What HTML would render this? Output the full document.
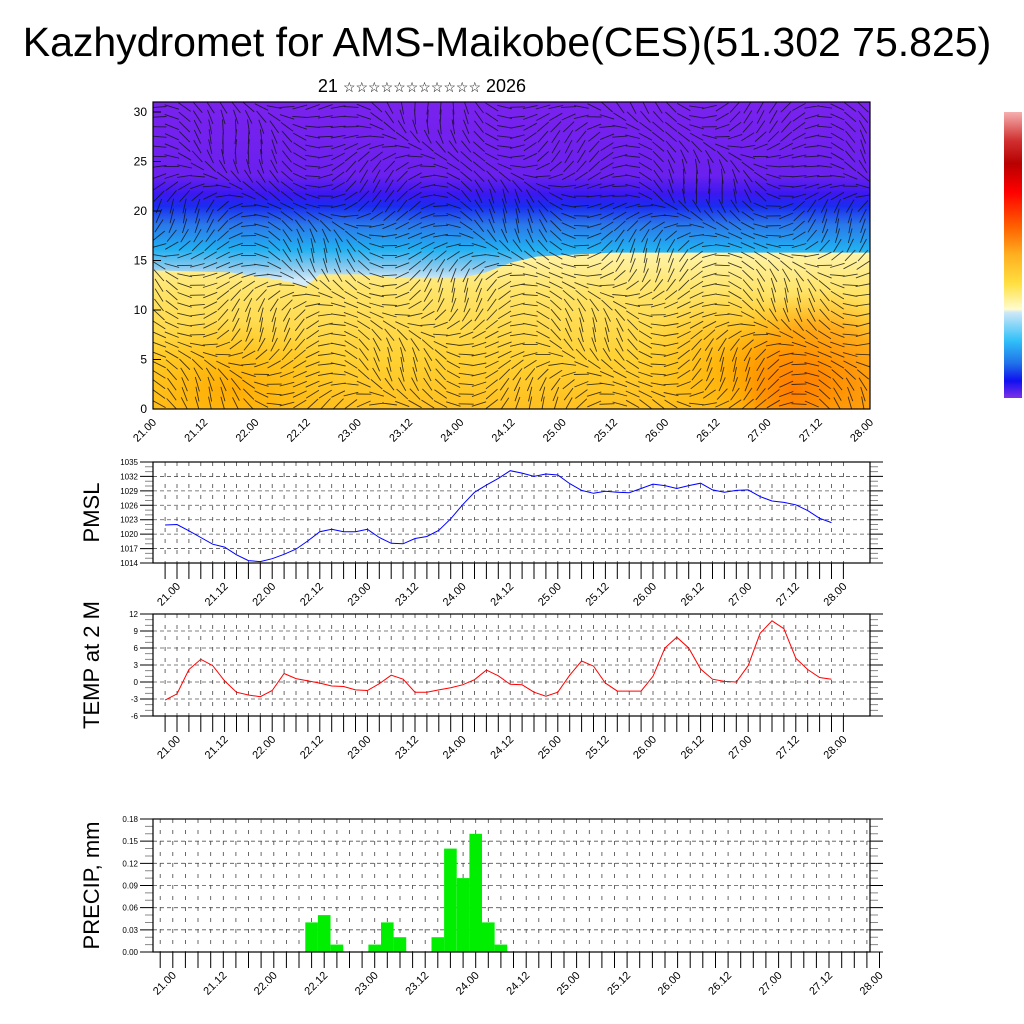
<!DOCTYPE html>
<html><head><meta charset="utf-8"><style>
html,body{margin:0;padding:0;background:#fff;}
svg{display:block;font-family:"Liberation Sans",sans-serif;}
</style></head><body>
<svg id="s" width="1024" height="1024" viewBox="0 0 1024 1024" xmlns="http://www.w3.org/2000/svg">
<defs>
<linearGradient id="gBlue" x1="0" y1="0" x2="0" y2="1">
<stop offset="0" stop-color="#7a22ee"/>
<stop offset="0.24" stop-color="#6a20ee"/>
<stop offset="0.30" stop-color="#3a18f0"/>
<stop offset="0.34" stop-color="#1a2cf0"/>
<stop offset="0.40" stop-color="#2a78ea"/>
<stop offset="0.48" stop-color="#22b0f2"/>
<stop offset="0.54" stop-color="#8ccaee"/>
<stop offset="0.58" stop-color="#d4ecf8"/>
<stop offset="1" stop-color="#d4ecf8"/>
</linearGradient>
<linearGradient id="gYel" x1="0" y1="0" x2="0" y2="1">
<stop offset="0" stop-color="#fff4a8"/>
<stop offset="0.25" stop-color="#ffe468"/>
<stop offset="0.7" stop-color="#ffd030"/>
<stop offset="1" stop-color="#ffc020"/>
</linearGradient>
<radialGradient id="gOr1"><stop offset="0" stop-color="#ff7a00" stop-opacity="0.95"/><stop offset="0.6" stop-color="#ff9000" stop-opacity="0.6"/><stop offset="1" stop-color="#ffb000" stop-opacity="0"/></radialGradient>
<radialGradient id="gOr2"><stop offset="0" stop-color="#ffa800" stop-opacity="0.9"/><stop offset="1" stop-color="#ffb800" stop-opacity="0"/></radialGradient>
<linearGradient id="gBar" x1="0" y1="0" x2="0" y2="1">
<stop offset="0" stop-color="#f6b0b0"/><stop offset="0.1" stop-color="#d03030"/><stop offset="0.18" stop-color="#b80000"/><stop offset="0.28" stop-color="#ff0000"/><stop offset="0.4" stop-color="#ff6000"/><stop offset="0.5" stop-color="#ffb020"/><stop offset="0.6" stop-color="#ffe040"/><stop offset="0.69" stop-color="#fffcd0"/><stop offset="0.7" stop-color="#d0e8f8"/><stop offset="0.8" stop-color="#30c0f8"/><stop offset="0.88" stop-color="#2070e8"/><stop offset="0.94" stop-color="#1010f0"/><stop offset="1" stop-color="#8030e8"/>
</linearGradient>
<clipPath id="cTop"><rect x="153" y="102" width="717" height="307"/></clipPath>
</defs>
<text x="507" y="56" font-size="41" text-anchor="middle">Kazhydromet for AMS-Maikobe(CES)(51.302 75.825)</text>
<text x="422" y="92" font-size="18" text-anchor="middle">21 <tspan font-size="14">☆☆☆☆☆☆☆☆☆☆☆</tspan> 2026</text>
<g id="top"></g>
<rect x="1004" y="112" width="18" height="286" fill="url(#gBar)"/>
<g id="pmsl"></g>
<g id="temp"></g>
<g id="prec"></g>
</svg>
<script>
const timeLabels=["21.00","21.12","22.00","22.12","23.00","23.12","24.00","24.12","25.00","25.12","26.00","26.12","27.00","27.12","28.00"];
const pmslTicks=[1014,1017,1020,1023,1026,1029,1032,1035];
const tempTicks=[-6,-3,0,3,6,9,12];
const precTicks=[0,0.03,0.06,0.09,0.12,0.15,0.18];
const topTicks=[0,5,10,15,20,25,30];
const pmslValues=[1021.9,1022,1020.7,1019.3,1017.9,1017.3,1015.7,1014.5,1014.3,1014.9,1015.8,1016.9,1018.6,1020.5,1021,1020.5,1020.5,1021,1019.3,1018.1,1018,1019.1,1019.5,1020.8,1023.2,1026.1,1028.7,1030.2,1031.6,1033.2,1032.7,1032,1032.5,1032.3,1030.5,1029.1,1028.5,1028.9,1028.7,1028.6,1029.5,1030.4,1030.1,1029.5,1030.1,1030.6,1029.2,1028.7,1029.1,1029.2,1027.8,1026.9,1026.6,1026.1,1024.9,1023.3,1022.4];
const tempValues=[-3.2,-2.1,2.2,4.0,2.9,0.2,-1.8,-2.3,-2.6,-1.5,1.5,0.6,0.2,-0.2,-0.7,-0.8,-1.4,-1.5,-0.3,1.2,0.5,-1.8,-1.8,-1.4,-1.0,-0.5,0.4,2.1,1.1,-0.4,-0.5,-1.8,-2.5,-1.8,1.2,3.7,2.8,-0.2,-1.6,-1.6,-1.6,1.0,6.0,7.9,6.0,2.3,0.5,0.1,0,2.9,8.6,10.8,9.4,4.2,2.2,0.8,0.5];
const precValues=[0,0,0,0,0,0,0,0,0,0,0,0,0.04,0.05,0.01,0,0,0.01,0.04,0.02,0,0,0.02,0.14,0.10,0.16,0.04,0.01,0,0,0,0,0,0,0,0,0,0,0,0,0,0,0,0,0,0,0,0,0,0,0,0,0,0,0,0,0];
const NS="http://www.w3.org/2000/svg";
function mk(tag,at,parent){const e=document.createElementNS(NS,tag);for(const k in at)e.setAttribute(k,at[k]);parent.appendChild(e);return e;}

(function(){
const g=document.getElementById('top');
const L=153,R=870,T=102,B=409;
const X=k=>L+k*(R-L)/56, Y=v=>B-v*9.9;
const cg=mk('g',{'clip-path':'url(#cTop)'},g);
let r=mk('rect',{x:L,y:T,width:R-L,height:B-T,fill:'url(#gBlue)'},cg);


const bnd=[[0,14],[6,13.8],[10,13],[12,12.4],[13,13.6],[16,13.6],[20,13.2],[24,13.2],[26,13.8],[28,14.8],[30,15.4],[36,15.8],[56,15.8]];
let d='M'+L+' '+B;bnd.forEach(p=>{d+=' L'+X(p[0]).toFixed(1)+' '+Y(p[1]).toFixed(1);});d+=' L'+R+' '+B+' Z';
let p=mk('path',{d:d,fill:'url(#gYel)'},cg);


[[X(6),Y(2),120,70,'gOr2'],[X(46),Y(4),110,80,'gOr2'],[X(52),Y(3),110,90,'gOr1'],[X(50),Y(2),60,60,'gOr1']].forEach(b=>{
 let e=mk('ellipse',{cx:b[0],cy:b[1],rx:b[2],ry:b[3],fill:'url(#'+b[4]+')'},cg);
 
 
});
let wd='';
for(let i=0;i<56;i++)for(let j=0;j<31;j++){
 const x=L+6+i*12.8,y=B-5-j*9.9;
 let a=Math.sin(i*0.37+j*0.21)*0.9+Math.cos(j*0.5-i*0.11)*0.5+(j>20?0.3:0);
 const len=15;
 wd+='M'+(x-Math.cos(a)*len/2).toFixed(1)+' '+(y-Math.sin(a)*len/2).toFixed(1)+'l'+(Math.cos(a)*len).toFixed(1)+' '+(Math.sin(a)*len).toFixed(1);
}
let w=mk('path',{d:wd,stroke:'#111',"stroke-width":0.9,fill:'none','stroke-opacity':0.8},cg);


mk('rect',{x:L,y:T,width:R-L,height:B-T,fill:'none',stroke:'#000','stroke-width':1.2},g);
topTicks.forEach(v=>{
 mk('line',{x1:L,x2:L+8,y1:Y(v),y2:Y(v),stroke:'#000'},g);
 let t=mk('text',{x:L-6,y:Y(v)+4,'font-size':12,'text-anchor':'end'},g);t.textContent=v;
 
 
});
timeLabels.forEach((s,i)=>{
 const x=X(i*4);
 let t=mk('text',{x:0,y:0,'font-size':11,'text-anchor':'end',transform:'translate('+(x+4)+','+(B+14)+') rotate(-45)'},g);t.textContent=s;
 
 
});
})();

function panel(id,opt){
 const g=document.getElementById(id);
 const L=153,R=870,T=opt.T,B=opt.B;
 const lo=opt.ticks[0],hi=opt.ticks[opt.ticks.length-1];
 const Y=v=>B-(v-lo)/(hi-lo)*(B-T);
 const X=k=>opt.x0+k*opt.dx;
 let gd='';
 opt.ticks.forEach(v=>{gd+='M'+L+' '+Y(v)+'H'+R;});
 mk('path',{d:gd,stroke:'#555','stroke-width':0.8,'stroke-dasharray':'4,3',fill:'none'},g);
 let vd='';
 for(let k=-1;k<=56;k++){const x=X(k);if(x>L&&x<R)vd+='M'+x.toFixed(1)+' '+T+'V'+B;}
 mk('path',{d:vd,stroke:'#444','stroke-width':0.8,'stroke-dasharray':'4,7',fill:'none'},g);
 let md='';
 for(let i=0;i<opt.ticks.length-1;i++){const a=opt.ticks[i],b=opt.ticks[i+1];for(let m=1;m<3;m++){const y=Y(a+(b-a)*m/3);md+='M'+(L-8)+' '+y+'h8M'+(R)+' '+y+'h8';}}
 mk('path',{d:md,stroke:'#888','stroke-width':1},g);
 let Md='';
 opt.ticks.forEach(v=>{Md+='M'+(L-13)+' '+Y(v)+'h13M'+R+' '+Y(v)+'h13';});
 mk('path',{d:Md,stroke:'#000','stroke-width':1},g);
 let xd='';
 for(let k=-1;k<=56;k++){const x=X(k);xd+='M'+x.toFixed(1)+' '+B+'v16';}
 mk('path',{d:xd,stroke:'#000','stroke-width':1},g);
 opt.draw(g,X,Y);
 mk('rect',{x:L,y:T,width:R-L,height:B-T,fill:'none',stroke:'#000','stroke-width':1.2},g);
 opt.ticks.forEach(v=>{
  let t=mk('text',{x:L-15,y:Y(v)+3,'font-size':8,'text-anchor':'end'},g);t.textContent=opt.fmt(v);
  
  
 });
 timeLabels.forEach((s,i)=>{
  const x=X(i*4);
  let t=mk('text',{x:0,y:0,'font-size':11,'text-anchor':'end',transform:'translate('+(x+4)+','+(B+24)+') rotate(-45)'},g);t.textContent=s;
  
  
 });
 let t=mk('text',{x:0,y:0,'font-size':22,'text-anchor':'middle',transform:'translate('+opt.tx+','+((T+B)/2)+') rotate(-90)'},g);t.textContent=opt.title;
 
 
}
panel('pmsl',{T:462,B:563,ticks:pmslTicks,x0:177,dx:11.9,tx:99,title:'PMSL',fmt:v=>v,draw:(g,X,Y)=>{
 let e=mk('polyline',{points:pmslValues.map((v,i)=>X(i-1).toFixed(1)+','+Y(v).toFixed(1)).join(' '),fill:'none',stroke:'#0000ff','stroke-width':1},g);
 
 
}});
panel('temp',{T:614,B:716,ticks:tempTicks,x0:177,dx:11.9,tx:99,title:'TEMP at 2 M',fmt:v=>v,draw:(g,X,Y)=>{
 let e=mk('polyline',{points:tempValues.map((v,i)=>X(i-1).toFixed(1)+','+Y(v).toFixed(1)).join(' '),fill:'none',stroke:'#ff0000','stroke-width':1},g);
 
 
}});
panel('prec',{T:819,B:952,ticks:precTicks,x0:172.8,dx:12.62,tx:99,title:'PRECIP, mm',fmt:v=>v.toFixed(2),draw:(g,X,Y)=>{
 precValues.forEach((v,i)=>{
  if(v<=0)return;
  const x=X(i-1.5);
  let b=mk('rect',{x:x.toFixed(1),y:Y(v).toFixed(1),width:12.62,height:(Y(0)-Y(v)).toFixed(1),fill:'#00ee00'},g);
  
  
 });
}});
</script>
</body></html>
